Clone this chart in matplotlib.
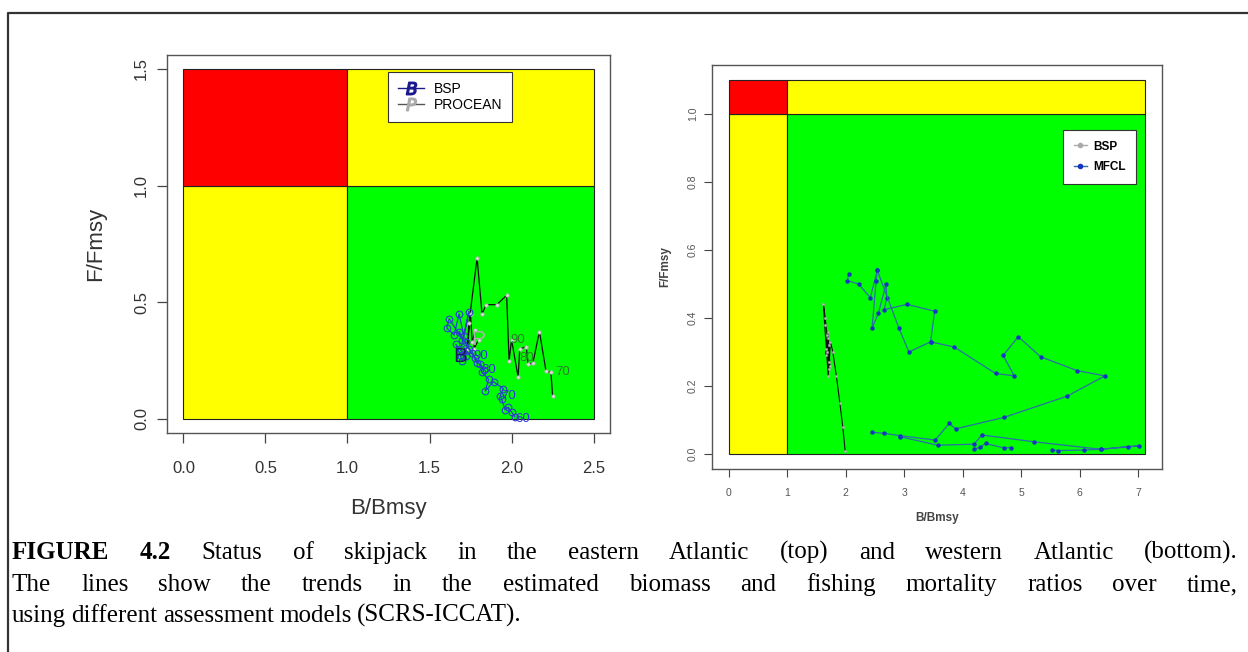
import numpy as np
import matplotlib
matplotlib.use("Agg")
import matplotlib.pyplot as plt
from matplotlib.patches import Rectangle
from matplotlib.lines import Line2D

matplotlib.rcParams["font.family"] = "sans-serif"
matplotlib.rcParams["font.sans-serif"] = ["Liberation Sans", "DejaVu Sans"]

W, H = 1248, 652

# ── data: eastern Atlantic (left panel) ───────────────────────────────────────
east_bsp_b = [2.02, 2.00, 1.98, 1.96, 1.94, 1.93, 1.95, 1.89, 1.84, 1.86, 1.82,
              1.81, 1.83, 1.78, 1.76, 1.79, 1.72, 1.74, 1.68, 1.70, 1.62, 1.605,
              1.65, 1.68, 1.71, 1.74, 1.69, 1.72, 1.66, 1.70, 1.73, 1.69]
east_bsp_f = [0.01, 0.03, 0.05, 0.04, 0.085, 0.10, 0.13, 0.16, 0.12, 0.17, 0.20,
              0.235, 0.21, 0.26, 0.285, 0.24, 0.33, 0.30, 0.375, 0.34, 0.43, 0.39,
              0.36, 0.45, 0.355, 0.46, 0.30, 0.27, 0.32, 0.25, 0.29, 0.27]
east_pro_b = [2.25, 2.24, 2.21, 2.17, 2.13, 2.10, 2.09, 2.05, 2.04, 2.00, 1.985,
              1.97, 1.91, 1.845, 1.82, 1.79, 1.74, 1.73, 1.75, 1.76, 1.78, 1.77, 1.80]
east_pro_f = [0.10, 0.20, 0.205, 0.375, 0.24, 0.235, 0.31, 0.30, 0.18, 0.34, 0.25,
              0.53, 0.49, 0.49, 0.45, 0.69, 0.41, 0.30, 0.45, 0.33, 0.38, 0.30, 0.34]
east_bsp_years = ["60", "70", "80", "90"]
east_bsp_year_b = [2.07, 1.98, 1.86, 1.81]
east_bsp_year_f = [0.00, 0.10, 0.21, 0.27]
east_pro_years = ["70", "80", "90"]
east_pro_year_b = [2.31, 2.09, 2.04]
east_pro_year_f = [0.20, 0.26, 0.34]

# ── data: western Atlantic (right panel) ──────────────────────────────────────
west_bsp_b = [1.99, 1.95, 1.90, 1.84, 1.78, 1.74, 1.71, 1.68, 1.65, 1.62, 1.64,
              1.67, 1.70, 1.72, 1.69, 1.66, 1.70, 1.73, 1.68, 1.71]
west_bsp_f = [0.01, 0.08, 0.15, 0.23, 0.30, 0.33, 0.25, 0.35, 0.40, 0.44, 0.38,
              0.31, 0.23, 0.27, 0.34, 0.29, 0.36, 0.26, 0.30, 0.32]
west_mfcl1_b = [5.53, 5.62, 6.08, 6.36, 6.82, 7.02, 6.36, 5.22, 4.33, 4.19, 3.57, 2.93]
west_mfcl1_f = [0.012, 0.010, 0.012, 0.014, 0.022, 0.024, 0.014, 0.036, 0.056,
                0.029, 0.026, 0.051]
west_mfcl2_b = [2.45, 2.65, 2.93, 3.53, 3.77, 3.88, 4.71, 5.78, 6.43, 5.96, 5.33,
                4.95, 4.69, 4.88, 4.56, 3.85, 3.45, 3.52, 3.05, 2.66, 2.70, 2.69,
                2.56, 2.45, 2.52, 2.54, 2.42, 2.22, 2.03, 2.05]
west_mfcl2_f = [0.064, 0.061, 0.054, 0.041, 0.090, 0.074, 0.108, 0.170, 0.230,
                0.245, 0.286, 0.345, 0.290, 0.230, 0.237, 0.315, 0.330, 0.420,
                0.440, 0.425, 0.460, 0.500, 0.415, 0.370, 0.510, 0.540, 0.460,
                0.500, 0.510, 0.530]
west_mfcl3_b = [2.54, 2.91, 3.08, 3.45]
west_mfcl3_f = [0.54, 0.37, 0.30, 0.33]
west_mfcl4_b = [4.19, 4.30, 4.39, 4.71, 4.82]
west_mfcl4_f = [0.014, 0.020, 0.031, 0.018, 0.019]

# panel extents (B max, F max) and reference point
EAST_MAX = (2.5, 1.5)
WEST_MAX = (7.12, 1.1)
REF = 1.0

RED, YEL, GRN = "#ff0000", "#ffff00", "#00ff00"

CAPTION = [
    "FIGURE 4.2 Status of skipjack in the eastern Atlantic (top) and western Atlantic (bottom).",
    "The lines show the trends in the estimated biomass and fishing mortality ratios over time,",
    "using different assessment models (SCRS-ICCAT).",
]
CAP_FS = 18


def px_axes(fig, x0, y0, x1, y1):
    return fig.add_axes([x0 / W, 1 - y1 / H, (x1 - x0) / W, (y1 - y0) / H])


def draw_zones(ax, bmax, fmax):
    for (xa, xb, ya, yb, c) in [(0, REF, 0, REF, YEL), (REF, bmax, 0, REF, GRN),
                                (0, REF, REF, fmax, RED), (REF, bmax, REF, fmax, YEL)]:
        ax.add_patch(Rectangle((xa, ya), xb - xa, yb - ya, facecolor=c,
                               edgecolor="#222222", linewidth=0.8, zorder=1))
    ax.set_xlim(-0.04 * bmax, bmax * 1.04)
    ax.set_ylim(-0.04 * fmax, fmax * 1.04)
    for sp in ax.spines.values():
        sp.set_color("#555555")
        sp.set_linewidth(1.0)


fig = plt.figure(figsize=(W / 100, H / 100), dpi=100)
fig.patch.set_facecolor("white")

# outer frame
fig.add_artist(Line2D([8 / W, 8 / W, 1.0], [0.0, 1 - 12.5 / H, 1 - 12.5 / H],
                      transform=fig.transFigure, color="#333333", linewidth=1.6))

# ── left panel ────────────────────────────────────────────────────────────────
ax1 = px_axes(fig, 167, 55, 610, 433)
draw_zones(ax1, *EAST_MAX)
ax1.plot(east_pro_b, east_pro_f, color="#111111", lw=0.9, marker="o", ms=2.5,
         mfc="#dddddd", mec="#aaaaaa", mew=0.5, zorder=3)
ax1.plot(east_bsp_b, east_bsp_f, color="#2a3fd0", lw=0.9, marker="o", ms=4.8,
         mfc="none", mec="#2a3fd0", mew=0.8, zorder=4)
for lab, x, y in zip(east_pro_years, east_pro_year_b, east_pro_year_f):
    ax1.text(x, y, lab, fontsize=9.5, color="#2f7a2f", ha="center", va="center", zorder=5)
for lab, x, y in zip(east_bsp_years, east_bsp_year_b, east_bsp_year_f):
    ax1.text(x, y, lab, fontsize=9.5, color="#3333dd", ha="center", va="center", zorder=5)
ax1.text(east_bsp_b[-1], east_bsp_f[-1], "B", fontsize=15, color="#1a1a55",
         ha="center", va="center", zorder=6)
ax1.text(east_pro_b[-1], east_pro_f[-1], "P", fontsize=15, color="#b0b0b0",
         ha="center", va="center", zorder=6)
ax1.set_xticks([0, 0.5, 1.0, 1.5, 2.0, 2.5])
ax1.set_xticklabels(["0.0", "0.5", "1.0", "1.5", "2.0", "2.5"])
ax1.set_yticks([0, 0.5, 1.0, 1.5])
ax1.set_yticklabels(["0.0", "0.5", "1.0", "1.5"], rotation=90, va="center")
ax1.tick_params(axis="x", direction="out", length=7, width=0.9, color="#444444",
                labelsize=12, labelcolor="#333333", pad=13)
ax1.tick_params(axis="y", direction="out", length=7, width=0.9, color="#444444",
                labelsize=12, labelcolor="#333333", pad=6)
ax1.set_xlabel("B/Bmsy", fontsize=16, color="#333333", labelpad=16)
ax1.set_ylabel("F/Fmsy", fontsize=16, color="#333333", labelpad=20)
ax1.legend(handles=[
    Line2D([], [], color="#1a1a8c", lw=1.0, marker="$B$", ms=9, label="BSP"),
    Line2D([], [], color="#555555", lw=1.0, marker="$P$", ms=9, mfc="#aaaaaa",
           mec="#aaaaaa", label="PROCEAN"),
], loc="upper left", bbox_to_anchor=(0.499, 0.955), borderaxespad=0, fontsize=10,
    frameon=True, fancybox=False, edgecolor="#333333", framealpha=1,
    handlelength=1.9, labelspacing=0.15, borderpad=0.7, handletextpad=0.7
).get_frame().set_linewidth(0.8)

# ── right panel ───────────────────────────────────────────────────────────────
ax2 = px_axes(fig, 712, 65, 1162, 469)
draw_zones(ax2, *WEST_MAX)
ax2.plot(west_bsp_b, west_bsp_f, color="#111111", lw=0.8, marker="o", ms=1.8,
         mfc="#bbbbbb", mec="#999999", mew=0.3, zorder=3)
for xs, ys in [(west_mfcl1_b, west_mfcl1_f), (west_mfcl2_b, west_mfcl2_f),
               (west_mfcl3_b, west_mfcl3_f), (west_mfcl4_b, west_mfcl4_f)]:
    ax2.plot(xs, ys, color="#2a6fa8", lw=0.9, marker="o", ms=2.2,
             mfc="#1535c0", mec="#1535c0", zorder=4)
ax2.set_xticks(range(8))
ax2.set_yticks([0, 0.2, 0.4, 0.6, 0.8, 1.0])
ax2.set_yticklabels(["0.0", "0.2", "0.4", "0.6", "0.8", "1.0"], rotation=90, va="center")
ax2.tick_params(axis="x", direction="out", length=6, width=0.8, color="#444444",
                labelsize=7.5, labelcolor="#555555", pad=8)
ax2.tick_params(axis="y", direction="out", length=6, width=0.8, color="#444444",
                labelsize=7.5, labelcolor="#555555", pad=4)
ax2.set_xlabel("B/Bmsy", fontsize=8.5, fontweight="bold", color="#444444", labelpad=10)
ax2.set_ylabel("F/Fmsy", fontsize=8.5, fontweight="bold", color="#444444", labelpad=12)
ax2.legend(handles=[
    Line2D([], [], color="#aaaaaa", lw=1.0, marker="o", ms=3, label="BSP"),
    Line2D([], [], color="#2a6fa8", lw=1.0, marker="o", ms=3, mfc="#1535c0",
           mec="#1535c0", label="MFCL"),
], loc="upper right", bbox_to_anchor=((1136 - 712) / 450, (469 - 130) / 404),
    borderaxespad=0, prop={"size": 8.5, "weight": "bold"}, frameon=True,
    fancybox=False, edgecolor="#333333", framealpha=1, handlelength=1.1,
    labelspacing=0.75, borderpad=0.9, handletextpad=0.5).get_frame().set_linewidth(0.8)

# ── justified caption ─────────────────────────────────────────────────────────
renderer = fig.canvas.get_renderer()
baselines = [559, 591, 622]
x_left, x_right = 12, 1238
for i, line in enumerate(CAPTION):
    words = line.split()
    arts = []
    for j, w in enumerate(words):
        arts.append(fig.text(0, 1 - baselines[i] / H, w, fontsize=CAP_FS,
                             family="Liberation Serif",
                             fontweight="bold" if (i == 0 and j < 2) else "normal",
                             ha="left", va="baseline", color="black"))
    widths = [a.get_window_extent(renderer).width for a in arts]
    if i < len(CAPTION) - 1:
        gap = (x_right - x_left - sum(widths)) / (len(words) - 1)
    else:
        gap = CAP_FS * 100 / 72 * 0.22
    x = x_left
    for a, w in zip(arts, widths):
        a.set_x(x / W)
        x += w + gap

fig.savefig("out.png", dpi=100, facecolor="white")
